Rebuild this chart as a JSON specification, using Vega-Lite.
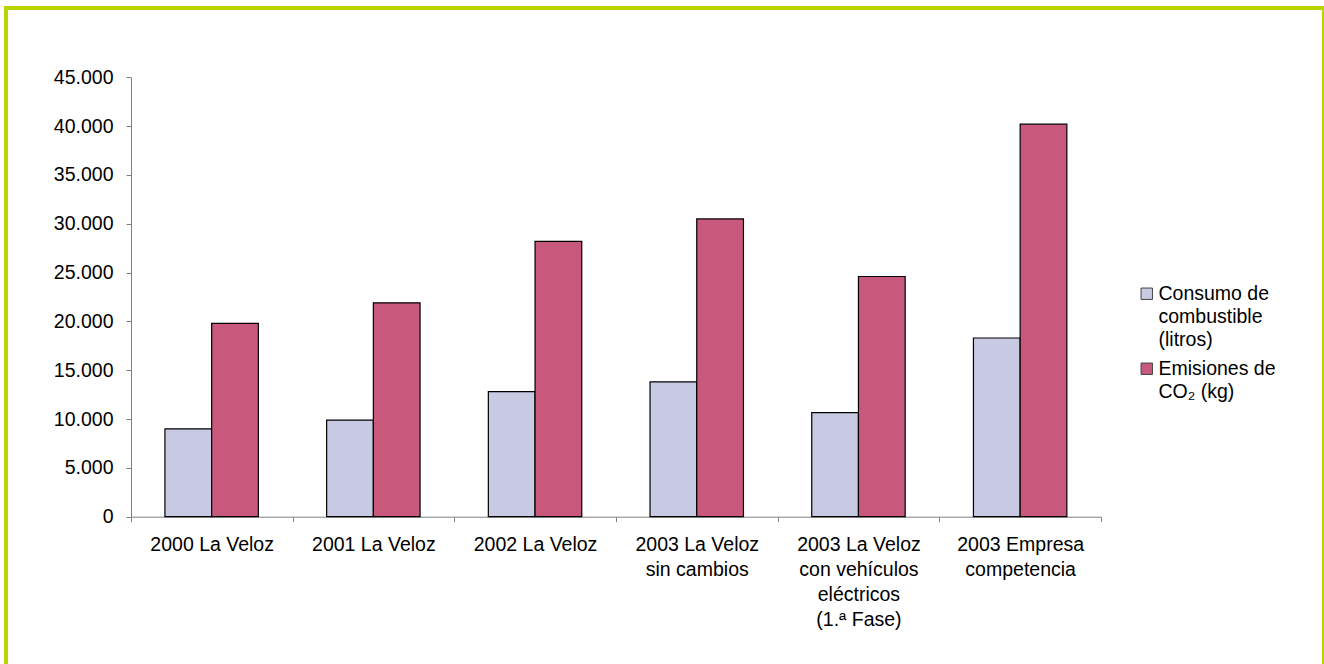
{
  "$schema": "https://vega.github.io/schema/vega-lite/v6.json",
  "width": 1318,
  "height": 660,
  "autosize": {"type": "none"},
  "padding": {"left": 6, "top": 8, "right": 0, "bottom": 0},
  "background": "white",
  "config": {
    "view": {"stroke": "#b9d300", "strokeWidth": 4, "fill": "white"},
    "font": "Liberation Sans",
    "style": {"guide-label": {"lineHeight": 23}}
  },
  "data": {
    "values": [
      {"grupo": "2000 La Veloz", "serie": "Consumo de combustible (litros)", "valor": 9000},
      {"grupo": "2000 La Veloz", "serie": "Emisiones de CO₂ (kg)", "valor": 19800},
      {"grupo": "2001 La Veloz", "serie": "Consumo de combustible (litros)", "valor": 9900},
      {"grupo": "2001 La Veloz", "serie": "Emisiones de CO₂ (kg)", "valor": 21900},
      {"grupo": "2002 La Veloz", "serie": "Consumo de combustible (litros)", "valor": 12800},
      {"grupo": "2002 La Veloz", "serie": "Emisiones de CO₂ (kg)", "valor": 28200},
      {"grupo": "2003 La Veloz|sin cambios", "serie": "Consumo de combustible (litros)", "valor": 13800},
      {"grupo": "2003 La Veloz|sin cambios", "serie": "Emisiones de CO₂ (kg)", "valor": 30500},
      {"grupo": "2003 La Veloz|con vehículos|eléctricos|(1.ª Fase)", "serie": "Consumo de combustible (litros)", "valor": 10650},
      {"grupo": "2003 La Veloz|con vehículos|eléctricos|(1.ª Fase)", "serie": "Emisiones de CO₂ (kg)", "valor": 24600},
      {"grupo": "2003 Empresa|competencia", "serie": "Consumo de combustible (litros)", "valor": 18300},
      {"grupo": "2003 Empresa|competencia", "serie": "Emisiones de CO₂ (kg)", "valor": 40200}
    ]
  },
  "mark": {"type": "bar", "stroke": "#000000", "strokeWidth": 1.2},
  "encoding": {
    "x": {
      "field": "grupo",
      "type": "nominal",
      "sort": null,
      "scale": {"range": [124.8, 1095], "paddingInner": 0, "paddingOuter": 0},
      "axis": {
        "title": null,
        "orient": "bottom",
        "offset": -151.3,
        "tickBand": "extent",
        "labelAngle": 0,
        "labelExpr": "isValid(datum.value) ? split(datum.value, '|') : ''",
        "labelFontSize": 19.5,
        "labelLineHeight": 25,
        "labelPadding": 14,
        "labelLimit": 0,
        "labelColor": "#000000",
        "tickSize": 5,
        "domainColor": "#808080",
        "tickColor": "#808080",
        "grid": false
      }
    },
    "xOffset": {
      "field": "serie",
      "type": "nominal",
      "sort": ["Consumo de combustible (litros)", "Emisiones de CO₂ (kg)"],
      "scale": {"paddingOuter": 0.731, "paddingInner": 0}
    },
    "y": {
      "field": "valor",
      "type": "quantitative",
      "scale": {"domain": [0, 45000], "range": [508.7, 69.3], "nice": false, "zero": true},
      "axis": {
        "title": null,
        "offset": -125,
        "values": [0, 5000, 10000, 15000, 20000, 25000, 30000, 35000, 40000, 45000],
        "labelExpr": "replace(format(datum.value, ','), ',', '.')",
        "labelFontSize": 19.5,
        "labelPadding": 13,
        "labelColor": "#000000",
        "tickSize": 5,
        "domainColor": "#808080",
        "tickColor": "#808080",
        "grid": false
      }
    },
    "color": {
      "field": "serie",
      "type": "nominal",
      "scale": {
        "domain": ["Consumo de combustible (litros)", "Emisiones de CO₂ (kg)"],
        "range": ["#c8cae4", "#c9597c"]
      },
      "legend": {
        "title": null,
        "orient": "none",
        "legendX": 1131,
        "legendY": 276,
        "padding": 0,
        "symbolType": "square",
        "symbolSize": 130,
        "symbolStrokeColor": "#404040",
        "symbolStrokeWidth": 1,
        "labelFontSize": 19.5,
        "labelColor": "#000000",
        "labelOffset": 2,
        "labelLimit": 0,
        "rowPadding": 8,
        "labelExpr": "datum.label == 'Consumo de combustible (litros)' ? ['Consumo de', 'combustible', '(litros)'] : ['Emisiones de', 'CO₂ (kg)']"
      }
    }
  }
}
